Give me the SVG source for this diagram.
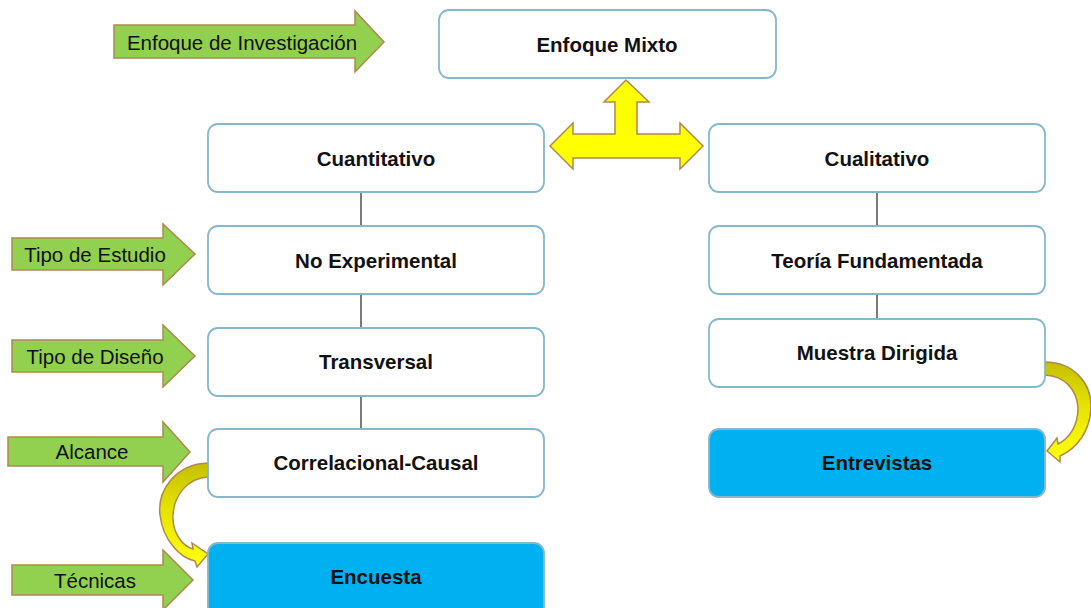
<svg xmlns="http://www.w3.org/2000/svg" width="1091" height="608" viewBox="0 0 1091 608">
<style>
.box{fill:#ffffff;stroke:#86B8CC;stroke-width:1.8}
.blue{fill:#00B0F0;stroke:#86B8CC;stroke-width:1.8}
.bt{font-family:"Liberation Sans",Arial,sans-serif;font-weight:bold;font-size:20.5px;fill:#111;text-anchor:middle}
.ga{fill:#92D050;stroke:#B0884E;stroke-width:1.5}
.gt{font-family:"Liberation Sans",Arial,sans-serif;font-size:20.5px;fill:#111;text-anchor:middle}
.ln{stroke:#333;stroke-width:1.3;fill:none}
.ya{stroke:#B0884E;stroke-width:1.5}
</style>
<defs>
<linearGradient id="yg" x1="0" y1="0" x2="0" y2="1">
<stop offset="0" stop-color="#C4C000"/>
<stop offset="0.45" stop-color="#E6E400"/>
<stop offset="1" stop-color="#FFFF10"/>
</linearGradient>
</defs>
<g id="connectors">
<line class="ln" x1="361" y1="192" x2="361" y2="226"/>
<line class="ln" x1="361" y1="294" x2="361" y2="328"/>
<line class="ln" x1="361" y1="396" x2="361" y2="429"/>
<line class="ln" x1="877" y1="192" x2="877" y2="226"/>
<line class="ln" x1="877" y1="294" x2="877" y2="319"/>
<path class="ya" fill="#FFFF00" d="M626 80 L649 102 L637 102 L637 134 L680 134 L680 123 L703 146 L680 169 L680 158 L573 158 L573 169 L550 146 L573 123 L573 134 L615 134 L615 102 L604 102 Z"/>
<path class="ya" fill="url(#yg)" d="M208 463 C176 464 157 490 160 515 C163 540 180 558 195 561 L197 567 L208 554 L192 543 L193 549 C182 546 172 532 173 515 C174 495 188 478 208 477 Z"/>
<path class="ya" fill="url(#yg)" d="M1045 362 C1075 362 1092 385 1091 408 C1090 430 1078 448 1060 456 L1060 462 L1047 451 L1057 438 L1058 444 C1070 438 1078 425 1078 408 C1077 390 1065 376 1045 375 Z"/>
</g>
<g id="label-enfoque">
<path class="ga" d="M114 25 L355 25 L355 11 L384 42 L355 72 L355 58 L114 58 Z"/>
<text class="gt" x="242" y="50">Enfoque de Investigación</text>
</g>
<g id="label-estudio">
<path class="ga" d="M12 238 L163 238 L163 224 L195 254 L163 285 L163 270 L12 270 Z"/>
<text class="gt" x="95" y="262">Tipo de Estudio</text>
</g>
<g id="label-diseno">
<path class="ga" d="M12 340 L163 340 L163 325 L195 356 L163 387 L163 372 L12 372 Z"/>
<text class="gt" x="95" y="364">Tipo de Diseño</text>
</g>
<g id="label-alcance">
<path class="ga" d="M8 437 L163 437 L163 422 L190 452 L163 482 L163 466 L8 466 Z"/>
<text class="gt" x="92" y="459">Alcance</text>
</g>
<g id="label-tecnicas">
<path class="ga" d="M12 565 L163 565 L163 550 L193 580 L163 610 L163 595 L12 595 Z"/>
<text class="gt" x="95" y="588">Técnicas</text>
</g>
<g id="n-mixto"><rect class="box" x="439" y="10" width="337" height="68" rx="10"/><text class="bt" x="607" y="52">Enfoque Mixto</text></g>
<g id="n-cuanti"><rect class="box" x="208" y="124" width="336" height="68" rx="10"/><text class="bt" x="376" y="166">Cuantitativo</text></g>
<g id="n-cuali"><rect class="box" x="709" y="124" width="336" height="68" rx="10"/><text class="bt" x="877" y="166">Cualitativo</text></g>
<g id="n-noexp"><rect class="box" x="208" y="226" width="336" height="68" rx="10"/><text class="bt" x="376" y="268">No Experimental</text></g>
<g id="n-teoria"><rect class="box" x="709" y="226" width="336" height="68" rx="10"/><text class="bt" x="877" y="268">Teoría Fundamentada</text></g>
<g id="n-transv"><rect class="box" x="208" y="328" width="336" height="68" rx="10"/><text class="bt" x="376" y="369">Transversal</text></g>
<g id="n-muestra"><rect class="box" x="709" y="319" width="336" height="68" rx="10"/><text class="bt" x="877" y="360">Muestra Dirigida</text></g>
<g id="n-correl"><rect class="box" x="208" y="429" width="336" height="68" rx="10"/><text class="bt" x="376" y="470">Correlacional-Causal</text></g>
<g id="n-entrev"><rect class="blue" x="709" y="429" width="336" height="68" rx="10"/><text class="bt" x="877" y="470">Entrevistas</text></g>
<g id="n-encuesta"><rect class="blue" x="208" y="543" width="336" height="75" rx="10"/><text class="bt" x="376" y="584">Encuesta</text></g>
</svg>
